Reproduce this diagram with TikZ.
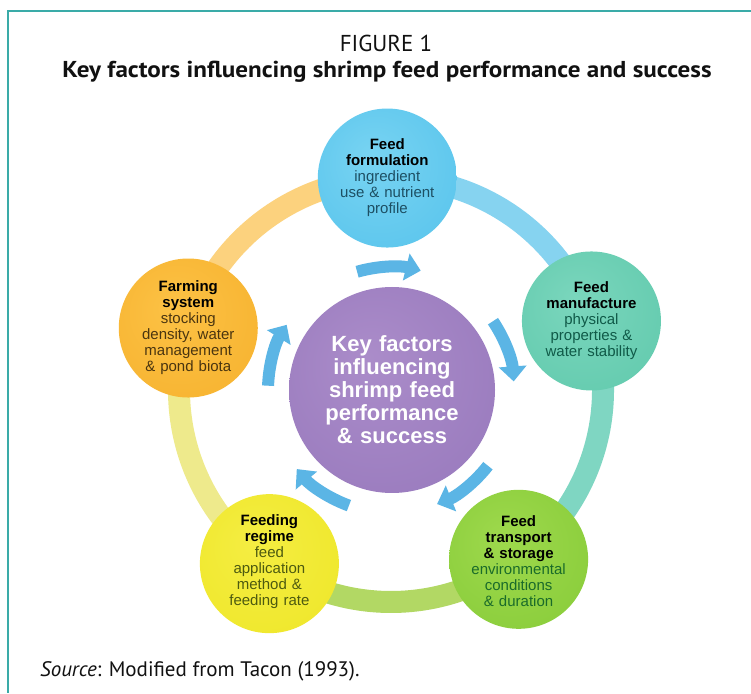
\documentclass[tikz,border=0pt]{standalone}
\usepackage{fontspec}
\setmainfont{Liberation Sans}
\newfontfamily\titlefont{PT Sans}
\usetikzlibrary{arrows.meta,calc}

\definecolor{framec}{HTML}{3AABA8}
\definecolor{arrowc}{HTML}{5BB5E5}
\definecolor{ringBlue}{HTML}{86D3F0}
\definecolor{ringTeal}{HTML}{7FD6C2}
\definecolor{ringGreen}{HTML}{B2D864}
\definecolor{ringYellow}{HTML}{EEEA8C}
\definecolor{ringOrange}{HTML}{FCD27E}
\definecolor{dBlue}{HTML}{1D4F63}
\definecolor{dTeal}{HTML}{105A48}
\definecolor{dGreen}{HTML}{1A6B2A}
\definecolor{dOlive}{HTML}{4D5A10}
\definecolor{dBrown}{HTML}{4A3510}
\definecolor{ttl}{HTML}{111111}

\pgfdeclareradialshading{shTop}{\pgfpoint{-6bp}{8bp}}{rgb(0bp)=(0.47,0.83,0.95); rgb(30bp)=(0.37,0.78,0.93); rgb(46bp)=(0.32,0.74,0.91); rgb(50bp)=(0.28,0.68,0.86)}
\pgfdeclareradialshading{shManu}{\pgfpoint{-6bp}{8bp}}{rgb(0bp)=(0.48,0.84,0.74); rgb(30bp)=(0.40,0.80,0.69); rgb(46bp)=(0.34,0.75,0.63); rgb(50bp)=(0.27,0.68,0.56)}
\pgfdeclareradialshading{shTrans}{\pgfpoint{-6bp}{8bp}}{rgb(0bp)=(0.62,0.85,0.30); rgb(30bp)=(0.55,0.81,0.24); rgb(46bp)=(0.46,0.75,0.18); rgb(50bp)=(0.40,0.68,0.14)}
\pgfdeclareradialshading{shRegime}{\pgfpoint{-6bp}{8bp}}{rgb(0bp)=(0.96,0.93,0.26); rgb(30bp)=(0.94,0.91,0.18); rgb(46bp)=(0.91,0.87,0.13); rgb(50bp)=(0.86,0.82,0.10)}
\pgfdeclareradialshading{shFarm}{\pgfpoint{-6bp}{8bp}}{rgb(0bp)=(0.99,0.76,0.27); rgb(30bp)=(0.97,0.71,0.20); rgb(46bp)=(0.95,0.65,0.14); rgb(50bp)=(0.90,0.59,0.10)}
\pgfdeclareradialshading{shCtr}{\pgfpoint{-6bp}{8bp}}{rgb(0bp)=(0.67,0.55,0.79); rgb(30bp)=(0.61,0.49,0.75); rgb(46bp)=(0.55,0.42,0.70); rgb(50bp)=(0.50,0.38,0.65)}

\tikzset{
  ring/.style={line width=22pt},
  cyc/.style={line width=12pt, color=arrowc, -{Triangle[width=27pt,length=15pt]}},
  ball/.style={circle, minimum size=139pt, inner sep=0pt},
  bigball/.style={circle, minimum size=206pt, inner sep=0pt},
  label/.style={text width=130pt, align=center, inner sep=0pt, font=\fontsize{15}{16}\selectfont},
  clabel/.style={text width=180pt, align=center, inner sep=0pt, text=white, font=\bfseries\fontsize{22}{23}\selectfont},
  ttext/.style={text=ttl, inner sep=0pt}
}

\begin{document}
\begin{tikzpicture}[x=1pt,y=1pt]
\useasboundingbox (0,0) rectangle (751,693);
\fill[white] (0,0) rectangle (751,693);
\draw[framec, line width=1.6pt] (751,682) -- (8,682) -- (8,0);

\node[ttext, font=\titlefont\fontsize{23}{26}\selectfont, anchor=base] (fig) at (386,641) {FIGURE 1};
\node[ttext, font=\titlefont\bfseries\fontsize{23}{26}\selectfont, anchor=base] (title) at (387,615) {\scalebox{1.09}[1]{Key factors influencing shrimp feed performance and success}};
\node[ttext, font=\titlefont\fontsize{21}{24}\selectfont, anchor=base west] (src) at (40,17) {\textit{Source}: Modified from Tacon (1993).};

\coordinate (ctr) at (391,303);

% outer ring
\draw[ring, ringBlue]   ($(ctr)+(91:212)$)  arc[start angle=91,  end angle=19,   radius=212];
\draw[ring, ringTeal]   ($(ctr)+(19:212)$)  arc[start angle=19,  end angle=-53,  radius=212];
\draw[ring, ringGreen]  ($(ctr)+(-53:212)$) arc[start angle=-53, end angle=-125, radius=212];
\draw[ring, ringYellow] ($(ctr)+(-125:212)$) arc[start angle=-125, end angle=-197, radius=212];
\draw[ring, ringOrange] ($(ctr)+(163:212)$) arc[start angle=163, end angle=91,  radius=212];

% inner cycle arrows
\foreach \a in {91,19,-53,-125,163}{
  \pgfmathsetmacro{\s}{\a+15}
  \pgfmathsetmacro{\e}{\a-15}
  \draw[cyc] ($(ctr)+(\s:123)$) arc[start angle=\s, end angle=\e, radius=123];
}

% circles
\node[ball, shading=shTop]    (form)   at ($(ctr)+(91:212)$) {};
\node[ball, shading=shManu]   (manu)   at ($(ctr)+(19:212)$) {};
\node[ball, shading=shTrans]  (trans)  at ($(ctr)+(-53:212)$) {};
\node[ball, shading=shRegime] (regime) at ($(ctr)+(-125:212)$) {};
\node[ball, shading=shFarm]   (farm)   at ($(ctr)+(163:212)$) {};
\node[bigball, shading=shCtr] (core)   at (392,303) {};

\node[label] (formT) at (form) {{\bfseries Feed\\ formulation}\\ {\color{dBlue}ingredient\\ use \& nutrient\\ profile}};
\node[label] (manuT) at (manu) {{\bfseries Feed\\ manufacture}\\ {\color{dTeal}physical\\ properties \&\\ water stability}};
\node[label] (transT) at ([yshift=-2pt]trans) {{\bfseries Feed\\ transport\\ \& storage}\\ {\color{dGreen}environmental\\ conditions\\ \& duration}};
\node[label] (regimeT) at ([yshift=2pt]regime) {{\bfseries Feeding\\ regime}\\ {\color{dOlive}feed\\ application\\ method \&\\ feeding rate}};
\node[label] (farmT) at (farm) {{\bfseries Farming\\ system}\\ {\color{dBrown}stocking\\ density, water\\ management\\ \& pond biota}};
\node[clabel] (coreT) at (core) {Key factors\\ influencing\\ shrimp feed\\ performance\\ \& success};
\end{tikzpicture}
\end{document}
